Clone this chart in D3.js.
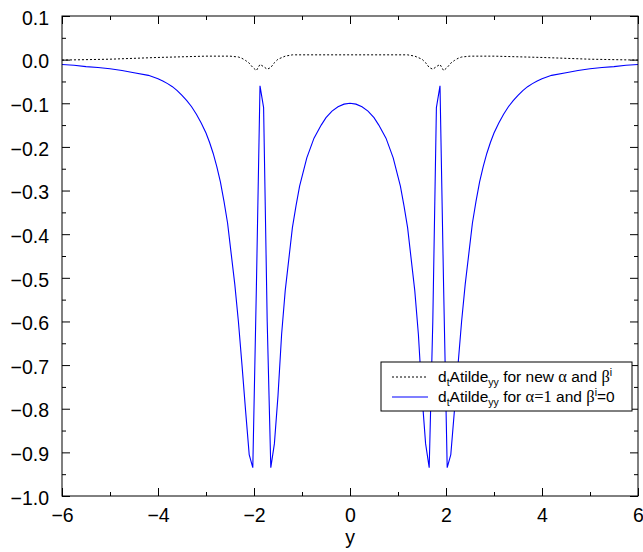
<!DOCTYPE html>
<html>
<head>
<meta charset="utf-8">
<script src="https://cdn.jsdelivr.net/npm/d3@7"></script>
<style>
  html, body { margin: 0; padding: 0; background: #fff; }
  svg { display: block; }
  text { font-family: "Liberation Sans", Arial, Helvetica, sans-serif; }
</style>
</head>
<body>
<svg id="chart" width="643" height="552"></svg>
<script>
// ---- data ----
const xMajorTicks = [-6, -4, -2, 0, 2, 4, 6];
const xMinorTicks = [-5, -3, -1, 1, 3, 5];
const yMajorTicks = [0.1, 0.0, -0.1, -0.2, -0.3, -0.4, -0.5, -0.6, -0.7, -0.8, -0.9, -1.0];
const yMinorTicks = [0.05, -0.05, -0.15, -0.25, -0.35, -0.45, -0.55, -0.65, -0.75, -0.85, -0.95];

// series 1: dotted (new alpha and beta)
const dotX = [-6, -5, -4, -3, -2.5, -2.325, -2.25, -2.175, -2.1, -2.025, -1.95, -1.875, -1.8, -1.725, -1.65, -1.575, -1.5, -1.35, -1.2, -0.6, 0,
              0.6, 1.2, 1.35, 1.5, 1.575, 1.65, 1.725, 1.8, 1.875, 1.95, 2.025, 2.1, 2.175, 2.25, 2.325, 2.5, 3, 4, 5, 6];
const dotY = [-0.001, 0.001, 0.005, 0.008, 0.008, 0.006, 0.003, -0.002, -0.008, -0.018, -0.025, -0.011, -0.016, -0.022, -0.018, -0.007, 0.001, 0.008, 0.011, 0.011, 0.011,
              0.011, 0.011, 0.008, 0.001, -0.007, -0.018, -0.022, -0.016, -0.011, -0.025, -0.018, -0.008, -0.002, 0.003, 0.006, 0.008, 0.008, 0.005, 0.001, -0.001];

// series 2: solid blue (alpha=1, beta=0)
const blueX = [-6, -5.75, -5.5, -5.25, -5, -4.75, -4.5, -4.2, -4, -3.9, -3.8, -3.7, -3.6, -3.5, -3.4, -3.3, -3.2, -3.1, -3, -2.925, -2.85, -2.775, -2.7, -2.625, -2.55, -2.475, -2.4, -2.325, -2.25, -2.175, -2.1, -2.025, -1.95, -1.875, -1.8, -1.725, -1.65, -1.575, -1.5, -1.425, -1.35, -1.2, -1.125, -1.05, -0.9, -0.75, -0.6, -0.5, -0.375, -0.25, -0.125, 0,
               0.125, 0.25, 0.375, 0.5, 0.6, 0.75, 0.9, 1.05, 1.125, 1.2, 1.35, 1.425, 1.5, 1.575, 1.65, 1.725, 1.8, 1.875, 1.95, 2.025, 2.1, 2.175, 2.25, 2.325, 2.4, 2.475, 2.55, 2.625, 2.7, 2.775, 2.85, 2.925, 3, 3.1, 3.2, 3.3, 3.4, 3.5, 3.6, 3.7, 3.8, 3.9, 4, 4.2, 4.5, 4.75, 5, 5.25, 5.5, 5.75, 6];
const blueY = [-0.011, -0.013, -0.016, -0.018, -0.021, -0.025, -0.030, -0.036, -0.044, -0.049, -0.055, -0.062, -0.071, -0.082, -0.094, -0.108, -0.125, -0.145, -0.168, -0.190, -0.215, -0.245, -0.280, -0.325, -0.375, -0.445, -0.515, -0.600, -0.700, -0.805, -0.905, -0.935, -0.520, -0.060, -0.110, -0.600, -0.935, -0.880, -0.770, -0.630, -0.530, -0.385, -0.335, -0.290, -0.225, -0.180, -0.150, -0.133, -0.118, -0.108, -0.102, -0.100,
               -0.102, -0.108, -0.118, -0.133, -0.150, -0.180, -0.225, -0.290, -0.335, -0.385, -0.530, -0.630, -0.770, -0.880, -0.935, -0.600, -0.110, -0.060, -0.520, -0.935, -0.905, -0.805, -0.700, -0.600, -0.515, -0.445, -0.375, -0.325, -0.280, -0.245, -0.215, -0.190, -0.168, -0.145, -0.125, -0.108, -0.094, -0.082, -0.071, -0.062, -0.055, -0.049, -0.044, -0.036, -0.030, -0.025, -0.021, -0.018, -0.016, -0.013, -0.011];

const xLabel = "y";

// ---- layout ----
const pLeft = 62, pRight = 638, pTop = 16, pBottom = 496;
const tickFont = "19.5px";
const svg = d3.select("#chart");
const x = d3.scaleLinear().domain([-6, 6]).range([pLeft, pRight]);
const y = d3.scaleLinear().domain([-1.0, 0.1]).range([pBottom, pTop]);
const fmtY = v => (v < 0 ? "\u2212" : "") + Math.abs(v).toFixed(1);
const fmtX = v => (v < 0 ? "\u2212" : "") + Math.abs(v);

svg.append("defs").append("clipPath").attr("id", "clip")
  .append("rect").attr("x", pLeft).attr("y", pTop).attr("width", pRight - pLeft).attr("height", pBottom - pTop);

function styleAxis(g) {
  g.select(".domain").remove();
  g.selectAll(".tick line").attr("stroke", "#000").attr("stroke-width", 1);
  g.selectAll(".tick text").attr("fill", "#000").style("font-size", tickFont)
    .style("font-family", '"Liberation Sans", Arial, Helvetica, sans-serif');
}

// bottom
svg.append("g").attr("transform", `translate(0,${pBottom})`)
  .call(d3.axisBottom(x).tickValues(xMajorTicks).tickFormat(fmtX).tickSize(-8).tickPadding(12))
  .call(styleAxis);
svg.append("g").attr("transform", `translate(0,${pBottom})`)
  .call(d3.axisBottom(x).tickValues(xMinorTicks).tickFormat("").tickSize(-4))
  .call(styleAxis);
// top
svg.append("g").attr("transform", `translate(0,${pTop})`)
  .call(d3.axisTop(x).tickValues(xMajorTicks).tickFormat("").tickSize(-8))
  .call(styleAxis);
svg.append("g").attr("transform", `translate(0,${pTop})`)
  .call(d3.axisTop(x).tickValues(xMinorTicks).tickFormat("").tickSize(-4))
  .call(styleAxis);
// left
const gl = svg.append("g").attr("transform", `translate(${pLeft},0)`)
  .call(d3.axisLeft(y).tickValues(yMajorTicks).tickFormat(fmtY).tickSize(-8).tickPadding(13))
  .call(styleAxis);
gl.selectAll(".tick text").attr("dy", "0.42em");
svg.append("g").attr("transform", `translate(${pLeft},0)`)
  .call(d3.axisLeft(y).tickValues(yMinorTicks).tickFormat("").tickSize(-4))
  .call(styleAxis);
// right
svg.append("g").attr("transform", `translate(${pRight},0)`)
  .call(d3.axisRight(y).tickValues(yMajorTicks).tickFormat("").tickSize(-8))
  .call(styleAxis);
svg.append("g").attr("transform", `translate(${pRight},0)`)
  .call(d3.axisRight(y).tickValues(yMinorTicks).tickFormat("").tickSize(-4))
  .call(styleAxis);

// data lines
const line = d3.line().x(d => x(d[0])).y(d => y(d[1]));
const plot = svg.append("g").attr("clip-path", "url(#clip)");
plot.append("path")
  .datum(dotX.map((v, i) => [v, dotY[i]]))
  .attr("d", line).attr("fill", "none").attr("stroke", "#000")
  .attr("stroke-width", 1).attr("stroke-dasharray", "2,2");
plot.append("path")
  .datum(blueX.map((v, i) => [v, blueY[i]]))
  .attr("d", line).attr("fill", "none").attr("stroke", "#0000ff")
  .attr("stroke-width", 1.1);

// frame
svg.append("rect").attr("x", pLeft).attr("y", pTop).attr("width", pRight - pLeft).attr("height", pBottom - pTop)
  .attr("fill", "none").attr("stroke", "#000").attr("stroke-width", 1);

// x axis title
svg.append("text").attr("x", x(0)).attr("y", 544).attr("text-anchor", "middle")
  .style("font-size", tickFont).text(xLabel);

// legend
const lg = svg.append("g");
lg.append("rect").attr("x", 381).attr("y", 362).attr("width", 251).attr("height", 49)
  .attr("fill", "#fff").attr("stroke", "#000").attr("stroke-width", 1);
lg.append("line").attr("x1", 392).attr("x2", 428).attr("y1", 377).attr("y2", 377)
  .attr("stroke", "#000").attr("stroke-width", 1).attr("stroke-dasharray", "2,2");
lg.append("line").attr("x1", 392).attr("x2", 428).attr("y1", 397).attr("y2", 397)
  .attr("stroke", "#0000ff").attr("stroke-width", 1.1);

const greek = '"Liberation Serif", "Times New Roman", serif';
function legendText(yb, parts) {
  const t = lg.append("text").attr("x", 438).attr("y", yb).style("font-size", "15.5px");
  parts.forEach(p => {
    const s = t.append("tspan").text(p.t);
    if (p.sub) s.style("font-size", "10.5px").attr("dy", 4);
    if (p.sup) s.style("font-size", "10.5px").attr("dy", -6);
    if (p.back) s.attr("dy", p.back);
    if (p.greek) s.style("font-family", greek).style("font-size", "16.5px");
  });
}
legendText(382, [
  {t: "d"}, {t: "t", sub: true}, {t: "Atilde", back: -4}, {t: "yy", sub: true},
  {t: " for new ", back: -4}, {t: "\u03B1", greek: true}, {t: " and "}, {t: "\u03B2", greek: true}, {t: "i", sup: true}
]);
legendText(402, [
  {t: "d"}, {t: "t", sub: true}, {t: "Atilde", back: -4}, {t: "yy", sub: true},
  {t: " for ", back: -4}, {t: "\u03B1=1", greek: true}, {t: " and "}, {t: "\u03B2", greek: true}, {t: "i", sup: true}, {t: "=0", back: 6}
]);
</script>
</body>
</html>
